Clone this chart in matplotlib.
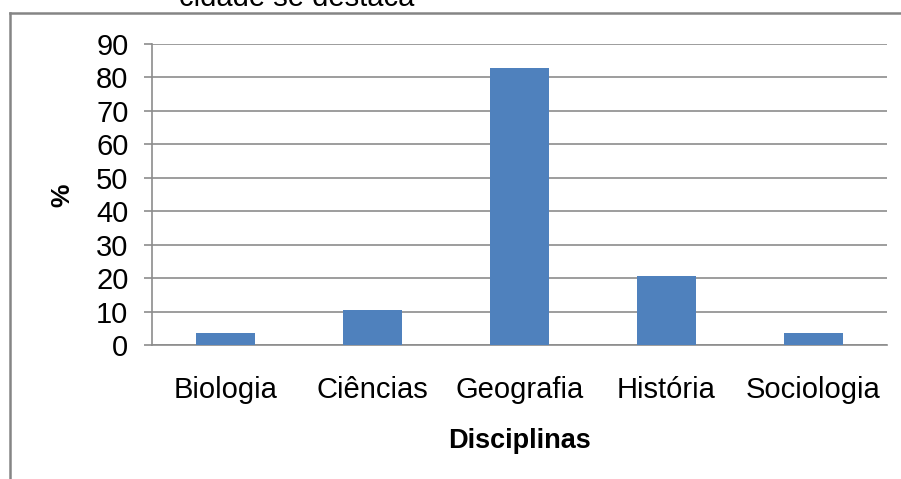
import matplotlib
import matplotlib.pyplot as plt
from matplotlib.lines import Line2D

matplotlib.use("Agg")

disciplinas = ["Biologia", "Ciências", "Geografia", "História", "Sociologia"]
percentuais = [3.6, 10.5, 82.7, 20.7, 3.6]
y_ticks = [0, 10, 20, 30, 40, 50, 60, 70, 80, 90]

W, H = 901, 479
BAR = "#4F81BD"
GRID = "#8C8C8C"
FS = 21

plt.rcParams["font.family"] = ["Liberation Sans", "DejaVu Sans"]


def fx(px):
    return px / W


def fy(py):
    return 1 - py / H


fig = plt.figure(figsize=(W / 100, H / 100), dpi=100)

# outer chart frame (only left and top edges are visible in the crop)
fig.add_artist(Line2D([fx(10), fx(10)], [fy(13), -0.1], color="#858585", lw=1.8))
fig.add_artist(Line2D([fx(10), 1.1], [fy(13), fy(13)], color="#858585", lw=1.8))

# title, mostly cut off at the top edge (as in the source image)
fig.text(fx(297), fy(6), "cidade se destaca", ha="center", va="baseline", fontsize=FS)

ax = fig.add_axes([fx(152), fy(345), fx(887) - fx(152), fy(44) - fy(345)])
x = range(len(disciplinas))
ax.bar(x, percentuais, width=0.4, color=BAR, zorder=3)

ax.set_xlim(-0.5, len(disciplinas) - 0.5)
ax.set_ylim(0, 90)
ax.set_yticks(y_ticks)
ax.yaxis.grid(True, color=GRID, lw=1.2, zorder=0)
ax.set_xticks(list(x))
ax.set_xticklabels(disciplinas, fontsize=FS)
for lab in ax.get_xticklabels():
    lab.set_verticalalignment("baseline")
ax.tick_params(axis="x", length=0, pad=38)
ax.tick_params(axis="y", length=6, width=1.2, color=GRID, labelsize=FS, pad=11)

for s in ["top", "right"]:
    ax.spines[s].set_visible(False)
for s in ["left", "bottom"]:
    ax.spines[s].set_color(GRID)
    ax.spines[s].set_linewidth(1.2)

fig.text(fx(62), fy(195), "%", rotation=90, ha="center", va="center",
         fontsize=19, fontweight="bold")
fig.text(fx(519), fy(441), "Disciplinas", ha="center", va="center",
         fontsize=19.5, fontweight="bold")

fig.savefig("out.png", dpi=100)
